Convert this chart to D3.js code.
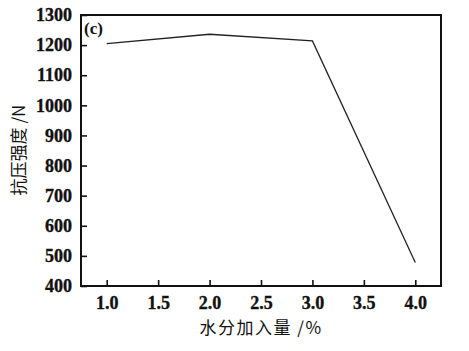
<!DOCTYPE html>
<html>
<head>
<meta charset="utf-8">
<script src="https://cdn.jsdelivr.net/npm/d3@7"></script>
<style>
  body { margin: 0; background: #fff; }
  svg text { fill: #111; }
  .serif { font-family: "Liberation Serif", "Times New Roman", "DejaVu Serif", serif; font-weight: bold; }
  .cjk { font-family: "Noto Sans CJK SC", sans-serif; }
</style>
</head>
<body>
<svg id="chart" width="469" height="351"></svg>
<script>
// 数据
const water = [1.0, 2.0, 3.0, 4.0];
const strength = [1205, 1236, 1214, 478];
const xTicks = [1.0, 1.5, 2.0, 2.5, 3.0, 3.5, 4.0];
const yTicks = [400, 500, 600, 700, 800, 900, 1000, 1100, 1200, 1300];

const svg = d3.select("#chart");
const margin = { top: 15, right: 28, bottom: 65, left: 81 };
const width = +svg.attr("width") - margin.left - margin.right;
const height = +svg.attr("height") - margin.top - margin.bottom;
const g = svg.append("g").attr("transform", `translate(${margin.left},${margin.top})`);

const x = d3.scaleLinear().domain([0.75, 4.25]).range([0, width]);
const y = d3.scaleLinear().domain([400, 1300]).range([height, 0]);

// 坐标轴
const xAxis = g.append("g")
    .attr("transform", `translate(0,${height})`)
    .call(d3.axisBottom(x).tickValues(xTicks).tickFormat(d3.format(".1f")).tickSizeInner(-6).tickSizeOuter(0).tickPadding(10));
const yAxis = g.append("g")
    .call(d3.axisLeft(y).tickValues(yTicks).tickFormat(d3.format("d")).tickSizeInner(-6).tickSizeOuter(0).tickPadding(9));

[xAxis, yAxis].forEach(a => {
    a.attr("font-family", null).attr("font-size", null);
    a.select(".domain").remove();
    a.selectAll("line").attr("stroke", "#111").attr("stroke-width", 1.6);
    a.selectAll("text")
        .attr("class", "serif")
        .attr("font-size", 18)
        .attr("fill", "#111")
        .attr("stroke", "#111")
        .attr("stroke-width", 0.35);
});

// 边框
g.append("rect")
    .attr("width", width)
    .attr("height", height)
    .attr("fill", "none")
    .attr("stroke", "#111")
    .attr("stroke-width", 2);

// 曲线
g.append("path")
    .datum(water.map((d, i) => [d, strength[i]]))
    .attr("fill", "none")
    .attr("stroke", "#222")
    .attr("stroke-width", 1.3)
    .attr("d", d3.line().x(d => x(d[0])).y(d => y(d[1])));

// 标记
g.append("text")
    .attr("class", "serif")
    .attr("x", 3)
    .attr("y", 19)
    .attr("font-size", 17)
    .text("(c)");

// 轴标题
svg.append("text")
    .attr("class", "cjk")
    .attr("x", margin.left + width / 2)
    .attr("y", 334)
    .attr("text-anchor", "middle")
    .attr("font-size", 17)
    .attr("letter-spacing", 1.5)
    .text("水分加入量 /%");

svg.append("text")
    .attr("class", "cjk")
    .attr("transform", `translate(25,150) rotate(-90)`)
    .attr("text-anchor", "middle")
    .attr("font-size", 17)
    .text("抗压强度 /N");
</script>
</body>
</html>
